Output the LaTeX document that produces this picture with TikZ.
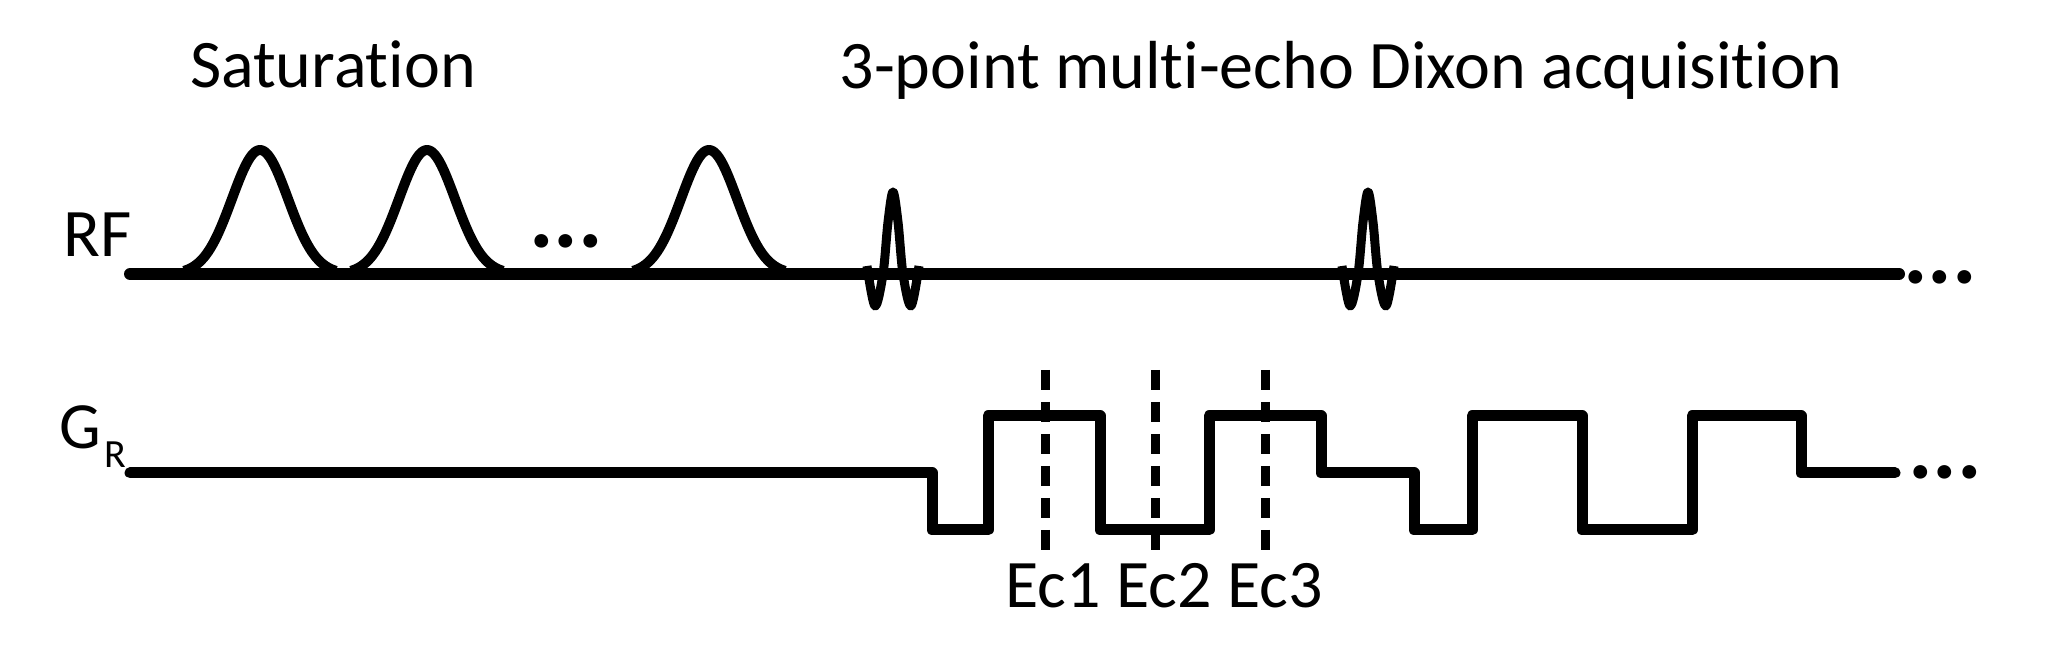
\documentclass[tikz,border=0pt]{standalone}
\usepackage{fontspec}
\setmainfont{Carlito}[Ligatures={NoCommon}]
\begin{document}
\begin{tikzpicture}[x=0.5pt,y=-0.5pt,
  lbl/.style={font=\fontsize{34pt}{40pt}\selectfont, inner sep=0pt, anchor=base},
  dotsx/.style={font=\fontsize{46pt}{46pt}\selectfont\bfseries, inner sep=0pt, anchor=base},
  rfline/.style={line width=6pt, line cap=round},
  gauss/.style={line width=5pt, line join=round},
  sincp/.style={line width=4.5pt, line join=round},
  wave/.style={line width=5.5pt, line cap=round, line join=round},
  echo/.style={line width=4.5pt, dash pattern=on 10pt off 6pt}]
\useasboundingbox (0,0) rectangle (2052,672);
% titles
\node[lbl] (sat) at (333,88) {Saturation};
\node[lbl] (acq) at (1341,89) {3-point multi-echo Dixon acquisition};
% labels
\node[lbl] (rf) at (98,257) {RF};
\node[inner sep=0pt, anchor=base west, font=\fontsize{33pt}{38pt}\selectfont] (gr) at (59,449) {G\hspace{1.5pt}\raisebox{-9.5pt}{\fontsize{20pt}{22pt}\selectfont R}};
% RF line
\coordinate (rfs) at (130,274);
\coordinate (rfe) at (1899,274);
\draw[rfline] (rfs) -- (rfe);
% gaussian saturation pulses
\foreach \c in {260,427,709}{
  \draw[gauss] plot[domain=-76:76, samples=70] ({\c+\x},{274-124*exp(-(\x*\x)/1568)});
}
\node[dotsx] (d1) at (566,248) {...};
% sinc pulses
\foreach \c in {893,1368}{
  \begin{scope}[shift={(\c,0)}]
  \draw[sincp] plot[smooth, tension=0.55] coordinates {(-26,266) (-18,306) (-10,274) (-5,222) (0,192) (5,222) (10,274) (18,306) (26,266)};
  \end{scope}
}
\node[dotsx] (d2) at (1940,284) {...};
% gradient
\coordinate (gs) at (130,473);
\coordinate (ge) at (1895,473);
\draw[wave] (gs) -- (932,473) -- (932,530) -- (988,530) -- (988,416) -- (1100,416) -- (1100,530)
  -- (1209,530) -- (1209,416) -- (1321,416) -- (1321,473) -- (1414,473) -- (1414,530) -- (1472,530)
  -- (1472,416) -- (1582,416) -- (1582,530) -- (1692,530) -- (1692,416) -- (1801,416) -- (1801,473) -- (ge);
\node[dotsx] (d3) at (1945,479) {...};
% echo markers
\foreach \xx/\lx/\n in {1045/1053/1,1155/1164/2,1265/1275/3}{
  \coordinate (et\n) at (\xx,370);
  \coordinate (eb\n) at (\xx,552);
  \draw[echo] (et\n) -- (eb\n);
  \node[lbl] (ec\n) at (\lx,608) {Ec\n};
}
\end{tikzpicture}
\end{document}
